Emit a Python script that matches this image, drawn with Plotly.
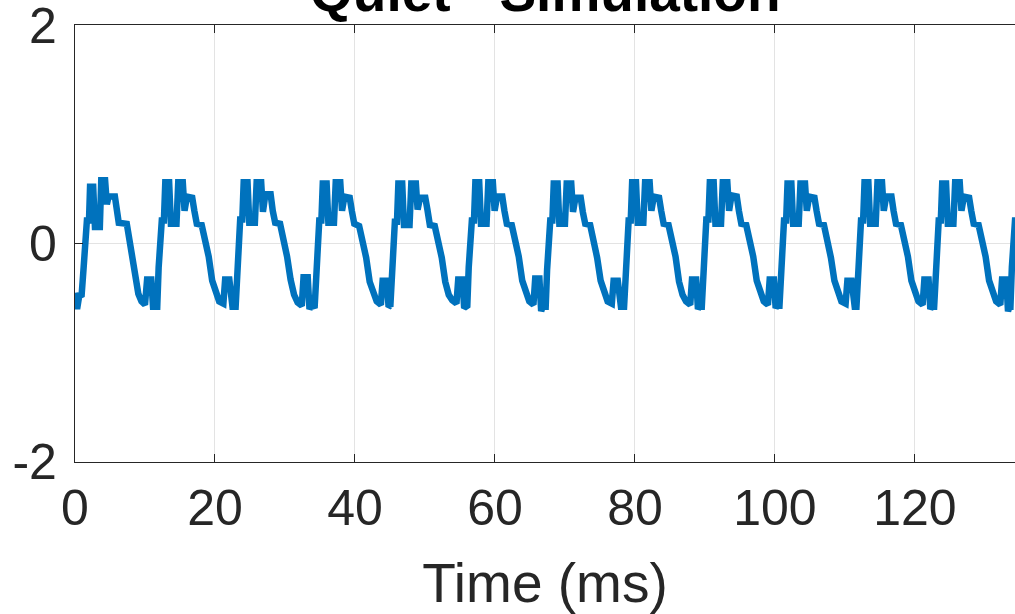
import plotly.graph_objects as go

# ---- data ----
t_c01 = [0.0, 0.3, 0.6, 0.95, 1.2, 1.4, 1.55, 1.7, 2.0, 2.15, 2.6, 2.85, 3.55, 3.75, 4.3, 4.55, 4.8, 5.7, 5.95, 6.25, 7.4, 7.75, 8.15, 8.6, 9.05, 9.5, 10.0, 10.3, 10.9, 11.15, 11.45]
v_c01 = [-0.45, -0.60, -0.48, -0.47, -0.25, 0.0, 0.02, 0.21, 0.21, 0.52, 0.52, 0.15, 0.15, 0.58, 0.58, 0.36, 0.43, 0.43, 0.32, 0.19, 0.18, 0.05, -0.12, -0.34, -0.46, -0.53, -0.56, -0.33, -0.33, -0.58, -0.58]

t_c02 = [11.75, 11.95, 12.1, 12.25, 12.4, 12.7, 12.9, 13.45, 13.7, 14.5, 14.75, 15.4, 15.65, 16.0, 16.75, 17.05, 17.4, 18.1, 18.6, 19.1, 19.6, 20.1, 20.6, 21.2, 21.45, 22.05, 22.3, 22.5]
v_c02 = [-0.58, -0.22, 0.0, 0.02, 0.21, 0.21, 0.56, 0.56, 0.18, 0.18, 0.56, 0.56, 0.30, 0.43, 0.42, 0.30, 0.18, 0.17, 0.03, -0.12, -0.34, -0.46, -0.53, -0.55, -0.33, -0.33, -0.58, -0.58]

t_c03 = [22.95, 23.15, 23.3, 23.45, 23.6, 23.9, 24.1, 24.65, 24.9, 25.7, 25.95, 26.6, 26.85, 27.2, 27.95, 28.25, 28.6, 29.3, 29.8, 30.3, 30.8, 31.3, 31.8, 32.4, 32.65, 33.25, 33.5, 33.7]
v_c03 = [-0.58, -0.22, 0.0, 0.03, 0.22, 0.22, 0.56, 0.56, 0.19, 0.19, 0.56, 0.56, 0.29, 0.45, 0.45, 0.30, 0.19, 0.18, 0.05, -0.12, -0.33, -0.47, -0.54, -0.57, -0.31, -0.31, -0.60, -0.58]

t_c04 = [34.25, 34.45, 34.6, 34.75, 34.9, 35.2, 35.4, 35.95, 36.2, 37.0, 37.25, 37.9, 38.15, 38.5, 39.25, 39.55, 39.9, 40.6, 41.1, 41.6, 42.1, 42.6, 43.1, 43.7, 43.95, 44.55, 44.8, 45.0]
v_c04 = [-0.57, -0.24, 0.0, 0.02, 0.21, 0.21, 0.55, 0.55, 0.19, 0.19, 0.56, 0.56, 0.30, 0.43, 0.42, 0.30, 0.18, 0.16, 0.03, -0.13, -0.35, -0.46, -0.53, -0.56, -0.34, -0.34, -0.58, -0.57]

t_c05 = [45.05, 45.25, 45.4, 45.55, 45.7, 46.0, 46.2, 46.75, 47.0, 47.8, 48.05, 48.7, 48.95, 49.3, 50.05, 50.35, 50.7, 51.4, 51.9, 52.4, 52.9, 53.4, 53.9, 54.5, 54.75, 55.35, 55.6, 55.8]
v_c05 = [-0.58, -0.23, 0.0, 0.02, 0.20, 0.20, 0.55, 0.55, 0.17, 0.17, 0.55, 0.55, 0.31, 0.42, 0.42, 0.31, 0.17, 0.16, 0.02, -0.13, -0.35, -0.47, -0.52, -0.55, -0.33, -0.33, -0.59, -0.57]

t_c06 = [56.05, 56.25, 56.4, 56.55, 56.7, 57.0, 57.2, 57.75, 58.0, 58.8, 59.05, 59.7, 59.95, 60.3, 61.05, 61.35, 61.7, 62.4, 62.9, 63.4, 63.9, 64.4, 64.9, 65.5, 65.75, 66.35, 66.6, 66.8]
v_c06 = [-0.57, -0.22, 0.0, 0.03, 0.21, 0.21, 0.56, 0.56, 0.18, 0.18, 0.56, 0.56, 0.30, 0.43, 0.43, 0.30, 0.18, 0.17, 0.04, -0.12, -0.34, -0.46, -0.53, -0.56, -0.32, -0.32, -0.62, -0.58]

t_c07 = [67.25, 67.45, 67.6, 67.75, 67.9, 68.2, 68.4, 68.95, 69.2, 70.0, 70.25, 70.9, 71.15, 71.5, 72.25, 72.55, 72.9, 73.6, 74.1, 74.6, 75.1, 75.6, 76.1, 76.7, 76.95, 77.55, 77.8, 78.0]
v_c07 = [-0.58, -0.24, 0.0, 0.02, 0.21, 0.21, 0.55, 0.55, 0.18, 0.18, 0.55, 0.55, 0.29, 0.42, 0.42, 0.29, 0.18, 0.17, 0.03, -0.13, -0.34, -0.46, -0.53, -0.55, -0.34, -0.34, -0.57, -0.58]

t_c08 = [78.45, 78.65, 78.8, 78.95, 79.1, 79.4, 79.6, 80.15, 80.4, 81.2, 81.45, 82.1, 82.35, 82.7, 83.45, 83.75, 84.1, 84.8, 85.3, 85.8, 86.3, 86.8, 87.3, 87.9, 88.15, 88.75, 89.0, 89.2]
v_c08 = [-0.58, -0.23, 0.0, 0.02, 0.21, 0.21, 0.56, 0.56, 0.19, 0.19, 0.56, 0.56, 0.30, 0.43, 0.42, 0.30, 0.18, 0.17, 0.03, -0.12, -0.35, -0.47, -0.53, -0.56, -0.33, -0.33, -0.60, -0.58]

t_c09 = [89.55, 89.75, 89.9, 90.05, 90.2, 90.5, 90.7, 91.25, 91.5, 92.3, 92.55, 93.2, 93.45, 93.8, 94.55, 94.85, 95.2, 95.9, 96.4, 96.9, 97.4, 97.9, 98.4, 99.0, 99.25, 99.85, 100.1, 100.3]
v_c09 = [-0.58, -0.22, 0.0, 0.03, 0.22, 0.22, 0.56, 0.56, 0.18, 0.18, 0.56, 0.56, 0.30, 0.44, 0.43, 0.30, 0.18, 0.17, 0.04, -0.12, -0.34, -0.46, -0.53, -0.56, -0.33, -0.33, -0.59, -0.57]

t_c10 = [100.65, 100.85, 101.0, 101.15, 101.3, 101.6, 101.8, 102.35, 102.6, 103.4, 103.65, 104.3, 104.55, 104.9, 105.65, 105.95, 106.3, 107.0, 107.5, 108.0, 108.5, 109.0, 109.5, 110.1, 110.35, 110.95, 111.2, 111.4]
v_c10 = [-0.57, -0.24, 0.0, 0.02, 0.21, 0.21, 0.55, 0.55, 0.18, 0.18, 0.55, 0.55, 0.30, 0.43, 0.42, 0.30, 0.18, 0.17, 0.03, -0.13, -0.34, -0.46, -0.53, -0.55, -0.34, -0.34, -0.58, -0.58]

t_c11 = [111.65, 111.85, 112.0, 112.15, 112.3, 112.6, 112.8, 113.35, 113.6, 114.4, 114.65, 115.3, 115.55, 115.9, 116.65, 116.95, 117.3, 118.0, 118.5, 119.0, 119.5, 120.0, 120.5, 121.1, 121.35, 121.95, 122.2, 122.4]
v_c11 = [-0.58, -0.23, 0.0, 0.02, 0.21, 0.21, 0.56, 0.56, 0.18, 0.18, 0.56, 0.56, 0.30, 0.43, 0.43, 0.30, 0.18, 0.17, 0.03, -0.12, -0.34, -0.46, -0.53, -0.56, -0.33, -0.33, -0.60, -0.58]

t_c12 = [122.75, 122.95, 123.1, 123.25, 123.4, 123.7, 123.9, 124.45, 124.7, 125.5, 125.75, 126.4, 126.65, 127.0, 127.75, 128.05, 128.4, 129.1, 129.6, 130.1, 130.6, 131.1, 131.6, 132.2, 132.45, 133.05, 133.3, 133.5]
v_c12 = [-0.58, -0.22, 0.0, 0.02, 0.21, 0.21, 0.55, 0.55, 0.18, 0.18, 0.56, 0.56, 0.30, 0.43, 0.42, 0.30, 0.18, 0.17, 0.03, -0.12, -0.34, -0.46, -0.53, -0.56, -0.33, -0.33, -0.62, -0.58]

t_c13 = [133.65, 133.85, 134.0, 134.15, 134.3, 134.6]
v_c13 = [-0.58, -0.22, 0.0, 0.02, 0.21, 0.21]

x_ticks = [0, 20, 40, 60, 80, 100, 120]
y_ticks = [-2, 0, 2]
y_tick_labels = ["-2", "0", "2"]
title_text = "Quiet - Simulation"
x_title = "Time (ms)"

time_ms = (t_c01 + t_c02 + t_c03 + t_c04 + t_c05 + t_c06 + t_c07 + t_c08 + t_c09
           + t_c10 + t_c11 + t_c12 + t_c13)
signal = (v_c01 + v_c02 + v_c03 + v_c04 + v_c05 + v_c06 + v_c07 + v_c08 + v_c09
          + v_c10 + v_c11 + v_c12 + v_c13)

AX = "#262626"
FONT = "Liberation Sans, Arial, Helvetica, sans-serif"

fig = go.Figure()
fig.add_trace(go.Scatter(
    x=time_ms, y=signal, mode="lines",
    line=dict(color="#0072BD", width=6.5),
    showlegend=False, hoverinfo="skip",
))

fig.update_layout(
    width=1015, height=614,
    margin=dict(l=75, r=0, t=25, b=152, autoexpand=False),
    paper_bgcolor="white", plot_bgcolor="white",
    font=dict(family=FONT, color=AX),
    showlegend=False,
)

fig.update_xaxes(
    range=[0, 134.3], tickvals=x_ticks, ticktext=[str(v) for v in x_ticks],
    automargin=False,
    showline=True, linecolor=AX, linewidth=1.2, mirror="ticks",
    ticks="inside", ticklen=8, tickwidth=1.2, tickcolor=AX,
    showgrid=True, gridcolor="#e3e3e3", gridwidth=1,
    zeroline=False,
    tickfont=dict(size=50, family=FONT, color=AX),
    ticklabelstandoff=2,
    title=dict(text=x_title, font=dict(size=55, family=FONT, color=AX), standoff=28),
)
fig.update_yaxes(
    range=[-2.001, 2.001], tickvals=y_ticks, ticktext=y_tick_labels,
    automargin=False,
    showline=True, linecolor=AX, linewidth=1.2, mirror=False,
    ticks="inside", ticklen=8, tickwidth=1.2, tickcolor=AX,
    showgrid=True, gridcolor="#e3e3e3", gridwidth=1,
    zeroline=False,
    tickfont=dict(size=50, family=FONT, color=AX),
    ticklabelstandoff=7,
    ticklabeloverflow="allow",
)

fig.add_annotation(
    text=title_text, xref="paper", yref="paper", x=0.501, y=1.0,
    xanchor="center", yanchor="bottom", showarrow=False,
    font=dict(size=55, family=FONT, color="black", weight="bold"),
)

fig.write_html(
    "out.html",
    config={"displayModeBar": False},
    post_script="document.body.style.margin='0px';document.body.style.overflow='hidden';",
)
